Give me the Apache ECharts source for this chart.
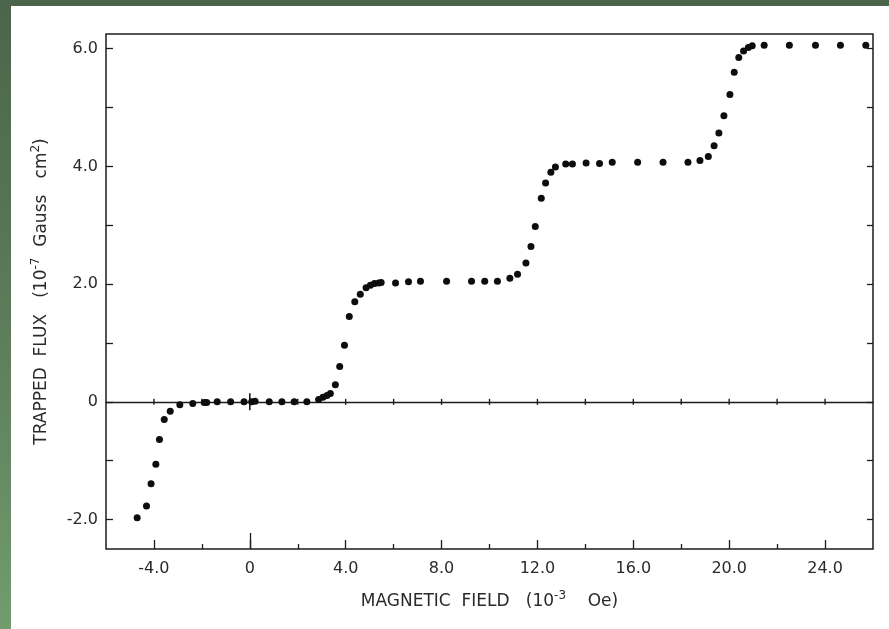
<!DOCTYPE html>
<html>
<head>
<meta charset="utf-8">
<script src="https://cdn.jsdelivr.net/npm/echarts@6/dist/echarts.min.js"></script>
<style>
  html, body { margin: 0; padding: 0; width: 889px; height: 629px; overflow: hidden;
    background: linear-gradient(180deg, #4b654a 0%, #5d7e5b 55%, #729c6e 100%); }
  #chart { position: absolute; left: 11px; top: 6px; width: 878px; height: 623px; background: #fff; }
</style>
</head>
<body>
<div id="chart"></div>
<script>
// magnetic field (10^-3 Oe) and trapped flux (10^-7 Gauss cm^2)
var fieldX = [-4.70,-4.31,-4.12,-3.92,-3.77,-3.57,-3.32,-2.92,-2.38,-1.90,-1.80,-1.36,-0.80,-0.24,0.08,
  0.22,0.81,1.34,1.85,2.38,2.87,3.05,3.22,3.36,3.57,3.75,3.95,4.15,4.38,4.61,4.85,5.03,5.20,5.38,5.48,
  6.08,6.62,7.12,8.21,9.25,9.80,10.33,10.85,11.17,11.52,11.73,11.91,12.16,12.34,12.56,12.75,13.18,13.46,
  14.03,14.59,15.12,16.18,17.24,18.28,18.78,19.13,19.37,19.57,19.78,20.03,20.21,20.40,20.60,20.80,20.96,
  21.46,22.51,23.60,24.64,25.70];
var flux = [-1.97,-1.77,-1.39,-1.06,-0.64,-0.30,-0.16,-0.05,-0.03,-0.01,-0.01,0,0,0,0,
  0.01,0,0,0,0,0.04,0.08,0.11,0.14,0.29,0.60,0.96,1.45,1.70,1.83,1.94,1.98,2.01,2.02,2.03,
  2.02,2.04,2.05,2.05,2.05,2.05,2.05,2.10,2.17,2.36,2.64,2.98,3.46,3.72,3.90,3.99,4.04,4.04,
  4.06,4.05,4.07,4.07,4.07,4.07,4.10,4.17,4.35,4.57,4.86,5.22,5.60,5.85,5.96,6.02,6.05,
  6.06,6.06,6.06,6.06,6.06];

var xLabels = [-4, 0, 4, 8, 12, 16, 20, 24];
var xMinorTicks = [-2, 2, 6, 10, 14, 18, 22];
var yLabels = [-2, 0, 2, 4, 6];
var yTicks = [-2, -1, 0, 1, 2, 3, 4, 5, 6];
var zeroLineMarks = [-4, -2, 2, 4, 6, 8, 10, 12, 14, 16, 18, 20, 22, 24];

var ink = '#1c1c1c';
var textInk = '#2a2a2a';
var font = 'DejaVu Sans';

function fmt(v) { return v === 0 ? '0' : v.toFixed(1); }

var nameRich = {
  b: { fontFamily: font, fontSize: 17, color: textInk, verticalAlign: 'bottom' },
  s: { fontFamily: font, fontSize: 12, color: textInk, verticalAlign: 'bottom', padding: [0, 0, 8, 0] }
};

var chart = echarts.init(document.getElementById('chart'));

var bottomAxis = function (ticks, len, extra) {
  return Object.assign({
    type: 'value', min: -6, max: 26, position: 'bottom',
    axisLine: { show: false, onZero: false },
    axisTick: { show: true, inside: true, length: len, customValues: ticks, lineStyle: { color: ink, width: 1.3 } },
    axisLabel: { show: false },
    splitLine: { show: false }
  }, extra || {});
};

var option = {
  animation: false,
  grid: { left: 95, right: 16, top: 28, bottom: 80, show: true, borderColor: ink, borderWidth: 1.5, backgroundColor: 'transparent' },
  xAxis: [
    bottomAxis(xLabels, 9, {
      axisLabel: { show: true, customValues: xLabels, formatter: fmt, margin: 12, color: textInk, fontFamily: font, fontSize: 16 },
      name: '{b|MAGNETIC  FIELD   (10}{s|-3}{b|    Oe)}',
      nameLocation: 'middle', nameGap: 41,
      nameTextStyle: { rich: nameRich }
    }),
    bottomAxis(xMinorTicks, 5),
    bottomAxis([0], 16),
    {
      type: 'value', min: -6, max: 26,
      axisLine: { show: true, onZero: true, lineStyle: { color: ink, width: 1.3 } },
      axisTick: { show: false }, axisLabel: { show: false }, splitLine: { show: false }
    }
  ],
  yAxis: [
    {
      type: 'value', min: -2.5, max: 6.25, position: 'left',
      axisLine: { show: false, onZero: false },
      axisTick: { show: true, inside: true, length: 7, customValues: yTicks, lineStyle: { color: ink, width: 1.3 } },
      axisLabel: { customValues: yLabels, formatter: fmt, margin: 8, color: textInk, fontFamily: font, fontSize: 16 },
      splitLine: { show: false },
      name: '{b|TRAPPED  FLUX   (10}{s|-7}{b|  Gauss   cm}{s|2}{b|)}',
      nameLocation: 'middle', nameGap: 56,
      nameTextStyle: { rich: nameRich }
    },
    {
      type: 'value', min: -2.5, max: 6.25, position: 'right',
      axisLine: { show: false, onZero: false },
      axisTick: { show: true, inside: true, length: 6, customValues: yTicks, lineStyle: { color: ink, width: 1.3 } },
      axisLabel: { show: false },
      splitLine: { show: false }
    }
  ],
  series: [
    {
      name: 'zero marks', type: 'scatter', silent: true,
      symbol: 'rect', symbolSize: [1.4, 6],
      itemStyle: { color: ink, opacity: 1 },
      data: zeroLineMarks.map(function (x) { return [x, 0]; })
    },
    {
      name: 'zero cross', type: 'scatter', silent: true,
      symbol: 'rect', symbolSize: [1.6, 17],
      itemStyle: { color: ink, opacity: 1 },
      data: [[0, 0]]
    },
    {
      name: 'trapped flux', type: 'scatter',
      symbol: 'circle', symbolSize: 7,
      itemStyle: { color: '#0d0d0d', opacity: 1 },
      data: fieldX.map(function (x, i) { return [x, flux[i]]; }),
      z: 5
    }
  ]
};

chart.setOption(option);
</script>
</body>
</html>
